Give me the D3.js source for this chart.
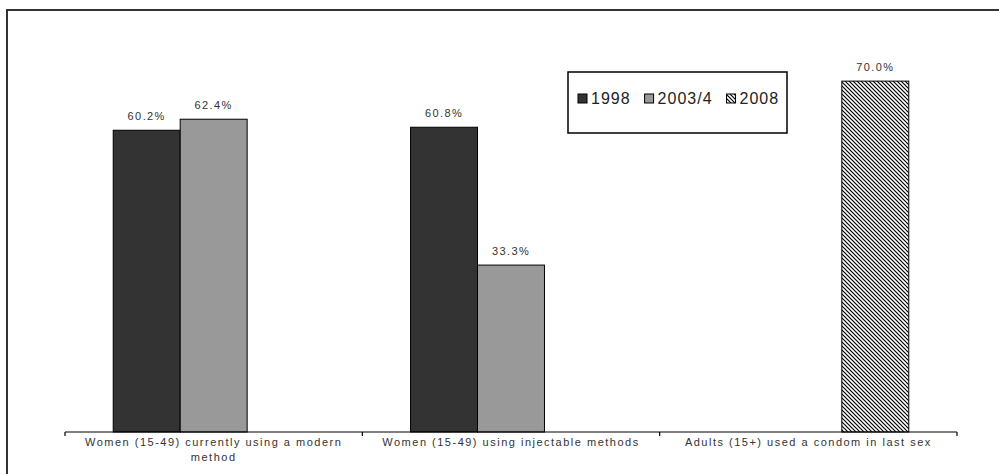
<!DOCTYPE html>
<meta charset="utf-8">
<style>
  body { margin: 0; padding: 0; background: #fff; }
  svg { display: block; background: #fff; }
  text { font-family: "Liberation Sans", Arial, sans-serif; }
  .val { font-size: 11px; fill: #333; letter-spacing: 1.4px; }
  .cat { font-size: 11px; fill: #333; letter-spacing: 1.5px; }
  .leg { font-size: 16px; fill: #222; letter-spacing: 1px; }
</style>
<script src="https://cdn.jsdelivr.net/npm/d3@7"></script>
<svg id="vis"></svg>
<script>

// data
var categories = [
  "Women (15-49) currently using a modern method",
  "Women (15-49) using injectable methods",
  "Adults (15+) used a condom in last sex"
];
var series = ["1998", "2003/4", "2008"];
var v1998 = [60.2, 60.8, null];
var v2003 = [62.4, 33.3, null];
var v2008 = [null, null, 70.0];
var values = [v1998, v2003, v2008];

var width = 999, height = 474;
var svg = d3.select("#vis").attr("width", width).attr("height", height);

// hatch for 2008
var defs = svg.append("defs");
var pat = defs.append("pattern")
  .attr("id", "hatch")
  .attr("patternUnits", "userSpaceOnUse")
  .attr("width", 4).attr("height", 4);
pat.append("rect").attr("width", 4).attr("height", 4).attr("fill", "#fff");
pat.append("path")
  .attr("d", "M-1,-1L5,5M3,-1L5,1M-1,3L1,5")
  .attr("stroke", "#000").attr("stroke-width", 1.2);

var fills = ["#333333", "#999999", "url(#hatch)"];

// outer chart frame (right/bottom edges fall outside the view)
svg.append("rect")
  .attr("x", 7).attr("y", 10)
  .attr("width", 1200).attr("height", 1000)
  .attr("fill", "none").attr("stroke", "#333").attr("stroke-width", 2);

var x0 = d3.scaleBand().domain(categories).range([65, 957]).paddingInner(0).paddingOuter(0);
var x1 = d3.scaleBand().domain(series).range([0, x0.bandwidth()]).paddingInner(0).paddingOuter(0.72);
var y = d3.scaleLinear().domain([0, 80]).range([432, 31]);

// bars
var rows = [];
categories.forEach(function(c, i) {
  series.forEach(function(s, j) {
    if (values[j][i] != null) rows.push({cat: c, ser: s, j: j, v: values[j][i]});
  });
});

var g = svg.append("g");
g.selectAll("rect.bar")
  .data(rows)
  .enter().append("rect")
    .attr("class", "bar")
    .attr("x", d => x0(d.cat) + x1(d.ser))
    .attr("y", d => y(d.v))
    .attr("width", x1.bandwidth())
    .attr("height", d => y(0) - y(d.v))
    .attr("fill", d => fills[d.j])
    .attr("stroke", "#000")
    .attr("stroke-width", 1);

g.selectAll("text.val")
  .data(rows)
  .enter().append("text")
    .attr("class", "val")
    .attr("x", d => x0(d.cat) + x1(d.ser) + x1.bandwidth() / 2)
    .attr("y", d => y(d.v) - 10)
    .attr("text-anchor", "middle")
    .text(d => d.v.toFixed(1) + "%");

// category axis
var axis = svg.append("g").attr("transform", "translate(0," + y(0) + ")");
axis.append("line")
  .attr("x1", 65).attr("x2", 957)
  .attr("stroke", "#000").attr("stroke-width", 1.2);
var tickPos = categories.map(c => x0(c)).concat([x0.range()[1]]);
axis.selectAll("line.tick")
  .data(tickPos)
  .enter().append("line")
    .attr("class", "tick")
    .attr("x1", d => d).attr("x2", d => d)
    .attr("y1", 0).attr("y2", 4)
    .attr("stroke", "#000").attr("stroke-width", 1.2);

var labels = axis.selectAll("text.cat")
  .data(categories)
  .enter().append("text")
    .attr("class", "cat")
    .attr("text-anchor", "middle")
    .attr("x", d => x0(d) + x0.bandwidth() / 2)
    .attr("y", 14);

// wrap the labels to the category width
labels.each(function(d) {
  var t = d3.select(this), words = d.split(" "), line = [];
  var cx = x0(d) + x0.bandwidth() / 2;
  var ts = t.append("tspan").attr("x", cx).attr("dy", 0);
  words.forEach(function(w) {
    line.push(w);
    ts.text(line.join(" "));
    if (ts.node().getComputedTextLength() > 285 && line.length > 1) {
      line.pop();
      ts.text(line.join(" "));
      line = [w];
      ts = t.append("tspan").attr("x", cx).attr("dy", 15).text(w);
    }
  });
});

// legend
var leg = svg.append("g").attr("transform", "translate(568,72)");
leg.append("rect")
  .attr("width", 219).attr("height", 61)
  .attr("fill", "#fff").attr("stroke", "#000").attr("stroke-width", 1.5);
var lx = 10;
series.forEach(function(s, j) {
  leg.append("rect")
    .attr("x", lx).attr("y", 22)
    .attr("width", 9).attr("height", 9)
    .attr("fill", fills[j]).attr("stroke", "#000").attr("stroke-width", 1);
  var t = leg.append("text")
    .attr("class", "leg")
    .attr("x", lx + 13).attr("y", 32)
    .text(s);
  lx += 13 + t.node().getComputedTextLength() + 14;
});

</script>
